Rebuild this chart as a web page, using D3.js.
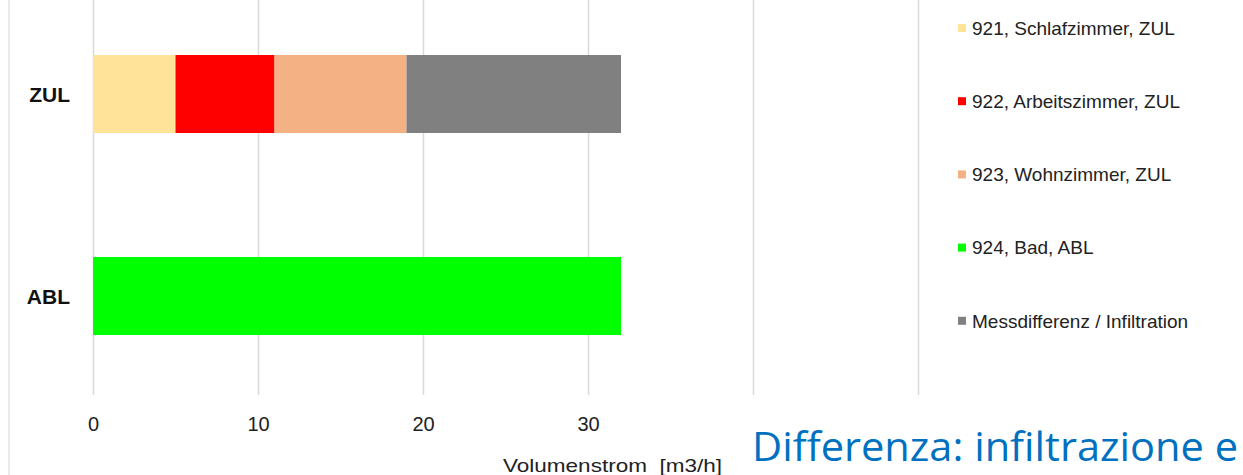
<!DOCTYPE html>
<html lang="de">
<head>
    <meta charset="UTF-8">
    <title>Volumenstrom ZUL / ABL</title>
    <script src="https://cdn.jsdelivr.net/npm/d3@7"></script>
    <style>
        body { margin: 0; background: #fff; }
        svg { display: block; }
    </style>
</head>
<body>
<script type="application/javascript">

    let w = 1243, h = 475;

    // categories (rows) and stacked series
    let categories = ["ZUL", "ABL"];
    let seriesNames = [
        "921, Schlafzimmer, ZUL",
        "922, Arbeitszimmer, ZUL",
        "923, Wohnzimmer, ZUL",
        "924, Bad, ABL",
        "Messdifferenz / Infiltration"
    ];
    let seriesColors = ["#ffe399", "#ff0000", "#f4b183", "#00ff00", "#808080"];
    // values per category, same order as seriesNames
    let zulValues = [5, 6, 8, 0, 13];
    let ablValues = [0, 0, 0, 32, 0];
    let gridValues = [0, 10, 20, 30, 40, 50];
    // 40 and 50 are hidden behind the slide text in the original
    let tickLabels = [0, 10, 20, 30];
    let axisTitle = "Volumenstrom  [m3/h]";
    let overlayText = "Differenza: infiltrazione e";

    let rows = categories.map(function(c, i) {
        let vals = i === 0 ? zulValues : ablValues;
        let r = { cat: c };
        seriesNames.forEach(function(s, j) { r[s] = vals[j]; });
        return r;
    });

    let stacked = d3.stack().keys(seriesNames)(rows);

    //Set up scales
    let xScale = d3.scaleLinear()
        .domain([0, 50])
        .range([93, 918]);

    let yScale = d3.scalePoint()
        .domain(categories)
        .range([94, 296]);

    let barH = 78;
    let font = "Liberation Sans, Arial, sans-serif";

    let colors = d3.scaleOrdinal()
        .domain(seriesNames)
        .range(seriesColors);

    let svg = d3.select("body")
        .append("svg")
        .attr("width", w)
        .attr("height", h);

    // left border of the plot
    svg.append("line")
        .attr("x1", 9).attr("x2", 9)
        .attr("y1", 0).attr("y2", h)
        .attr("stroke", "#e3e3e3")
        .attr("stroke-width", 1.5);

    // vertical gridlines via the axis
    let grid = svg.append("g")
        .attr("transform", "translate(0,395)")
        .call(d3.axisTop(xScale)
            .tickValues(gridValues)
            .tickSize(395)
            .tickFormat(""));
    grid.select(".domain").remove();
    grid.selectAll("line")
        .attr("stroke", "#d9d9d9")
        .attr("stroke-width", 1.5);

    // bars
    let groups = svg.selectAll("g.series")
        .data(stacked)
        .enter()
        .append("g")
        .attr("class", "series")
        .style("fill", function(d) { return colors(d.key); });

    groups.selectAll("rect")
        .data(function(d) { return d.filter(function(p) { return p[1] > p[0]; }); })
        .enter()
        .append("rect")
        .attr("x", function(d) { return xScale(d[0]); })
        .attr("y", function(d) { return yScale(d.data.cat) - barH / 2; })
        .attr("width", function(d) { return xScale(d[1]) - xScale(d[0]); })
        .attr("height", barH);

    // category labels
    svg.selectAll("text.cat")
        .data(categories)
        .enter()
        .append("text")
        .attr("class", "cat")
        .attr("x", 70)
        .attr("y", function(d) { return yScale(d); })
        .attr("dy", "0.36em")
        .attr("text-anchor", "end")
        .style("font-family", font)
        .style("font-weight", "bold")
        .style("font-size", "21px")
        .style("fill", "#111")
        .text(function(d) { return d; });

    // tick labels
    let xAxis = svg.append("g")
        .attr("transform", "translate(0,395)")
        .call(d3.axisBottom(xScale)
            .tickValues(tickLabels)
            .tickSize(0)
            .tickPadding(22));
    xAxis.select(".domain").remove();
    xAxis.selectAll("text")
        .style("font-family", font)
        .style("font-size", "20px")
        .style("fill", "#222");

    svg.append("text")
        .attr("x", 503)
        .attr("y", 472)
        .attr("textLength", 219)
        .attr("lengthAdjust", "spacingAndGlyphs")
        .style("font-family", font)
        .style("font-size", "19px")
        .style("fill", "#222")
        .style("white-space", "pre")
        .text(axisTitle);

    // legend
    let legend = svg.selectAll("g.legend")
        .data(seriesNames)
        .enter()
        .append("g")
        .attr("class", "legend")
        .attr("transform", function(d, i) { return "translate(958," + (28 + i * 73.2) + ")"; });

    legend.append("rect")
        .attr("x", 0).attr("y", -4)
        .attr("width", 8).attr("height", 8)
        .style("fill", function(d) { return colors(d); });

    legend.append("text")
        .attr("x", 14)
        .attr("dy", "0.36em")
        .style("font-family", font)
        .style("font-size", "19px")
        .style("fill", "#222")
        .text(function(d) { return d; });

    // overlaying slide text
    svg.append("text")
        .attr("x", 752)
        .attr("y", 461)
        .attr("textLength", 486)
        .attr("lengthAdjust", "spacingAndGlyphs")
        .style("font-family", "Open Sans, sans-serif")
        .style("font-size", "40px")
        .style("fill", "#0070c0")
        .text(overlayText);

</script>
</body>
</html>
